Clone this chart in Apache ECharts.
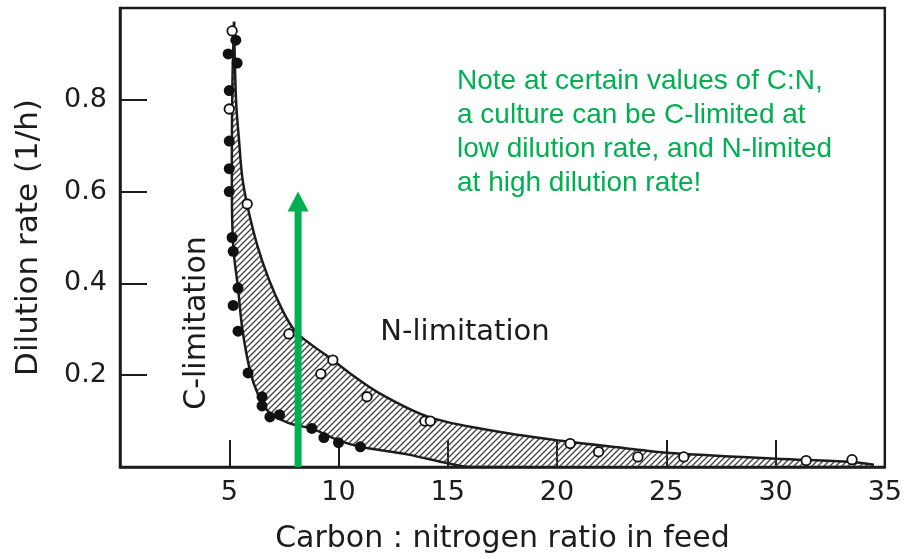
<!DOCTYPE html>
<html>
<head>
<meta charset="utf-8">
<title>Dilution rate vs C:N ratio</title>
<script src="https://cdn.jsdelivr.net/npm/echarts@6/dist/echarts.min.js"></script>
<style>
  html, body { margin: 0; padding: 0; background: #fff; }
  #chart { width: 905px; height: 559px; }
</style>
</head>
<body>
<div id="chart"></div>
<script>
// Carbon-limited steady states (filled circles)
const cLimX = [4.95, 5.3, 5.36, 5.0, 5.0, 5.0, 5.0, 5.13, 5.18, 5.4, 5.18, 5.4, 5.86, 6.5, 6.5, 6.86, 7.3, 8.78, 9.33, 10.0, 11.0];
const cLimY = [0.90, 0.93, 0.88, 0.82, 0.71, 0.65, 0.60, 0.50, 0.47, 0.39, 0.352, 0.296, 0.205, 0.153, 0.133, 0.109, 0.114, 0.084, 0.064, 0.053, 0.044];

// Nitrogen-limited steady states (open circles)
const nLimX = [5.13, 5.0, 5.82, 7.73, 9.74, 9.19, 11.3, 13.95, 14.2, 20.6, 21.9, 23.7, 25.8, 31.4, 33.5];
const nLimY = [0.95, 0.78, 0.573, 0.29, 0.233, 0.203, 0.153, 0.10, 0.10, 0.051, 0.033, 0.022, 0.022, 0.014, 0.016];

// Upper boundary of the transition zone (onset of N-limitation)
const upperX = [5.22, 5.31, 5.45, 5.6, 5.85, 6.3, 6.8, 7.4, 8.0, 8.8, 9.6, 10.5, 11.9, 14.2, 17.2, 20.2, 23.3, 25.0, 30.0, 33.5, 34.5];
const upperY = [0.97, 0.80, 0.71, 0.63, 0.565, 0.48, 0.41, 0.345, 0.297, 0.265, 0.238, 0.205, 0.16, 0.108, 0.078, 0.057, 0.04, 0.031, 0.018, 0.011, 0.005];

// Lower boundary of the transition zone (end of C-limitation)
const lowerX = [5.22, 5.15, 5.12, 5.13, 5.2, 5.4, 5.6, 5.95, 6.3, 6.8, 7.7, 8.8, 10.0, 11.0, 13.2, 15.0, 16.0, 34.5];
const lowerY = [0.97, 0.85, 0.70, 0.55, 0.47, 0.39, 0.30, 0.21, 0.16, 0.12, 0.096, 0.083, 0.058, 0.044, 0.027, 0.008, 0.0, 0.0];

// Highlighted C:N ratio
const arrowX = 8.15;
const arrowTipY = 0.6;

// Axis ticks
const xTicks = [0, 5, 10, 15, 20, 25, 30, 35];
const yTicks = [0, 0.2, 0.4, 0.6, 0.8, 1.0];

const noteLines = [
  'Note at certain values of C:N,',
  'a culture can be C-limited at',
  'low dilution rate, and N-limited',
  'at high dilution rate!'
];

const ink = '#1c1c1c';
const green = '#00b050';
const figFont = '"DejaVu Sans", sans-serif';

// Diagonal hatch tile for the transition zone
function makeHatch() {
  const s = 6;
  const c = document.createElement('canvas');
  c.width = s; c.height = s;
  const g = c.getContext('2d');
  g.strokeStyle = '#444';
  g.lineWidth = 1.35;
  g.beginPath();
  g.moveTo(-1, s + 1); g.lineTo(s + 1, -1);
  g.moveTo(-1, 1); g.lineTo(1, -1);
  g.moveTo(s - 1, s + 1); g.lineTo(s + 1, s - 1);
  g.stroke();
  return { image: c, repeat: 'repeat' };
}
const hatch = makeHatch();

const chart = echarts.init(document.getElementById('chart'), null, { renderer: 'canvas' });

function zip(xs, ys) { return xs.map((x, i) => [x, ys[i]]); }

function renderBand(params, api) {
  const up = upperX.map((x, i) => api.coord([x, upperY[i]]));
  const lo = lowerX.map((x, i) => api.coord([x, lowerY[i]]));
  const ring = up.concat(lo.slice(1).reverse());
  const sm = 0.35;
  return {
    type: 'group',
    children: [
      { type: 'polygon', shape: { points: ring, smooth: sm }, style: { fill: hatch, stroke: null } },
      { type: 'polyline', shape: { points: up, smooth: sm }, style: { stroke: ink, lineWidth: 2.5, fill: null } },
      { type: 'polyline', shape: { points: lo, smooth: sm }, style: { stroke: ink, lineWidth: 2.5, fill: null } }
    ]
  };
}

function renderArrow(params, api) {
  const base = api.coord([arrowX, 0]);
  const tip = api.coord([arrowX, arrowTipY]);
  const headLen = 20, headHalf = 10.5, shaft = 7;
  return {
    type: 'group',
    children: [
      { type: 'rect', shape: { x: base[0] - shaft / 2, y: tip[1] + headLen - 1, width: shaft, height: base[1] - tip[1] - headLen + 1 }, style: { fill: green } },
      { type: 'polygon', shape: { points: [[tip[0], tip[1]], [tip[0] - headHalf, tip[1] + headLen], [tip[0] + headHalf, tip[1] + headLen]] }, style: { fill: green } }
    ]
  };
}

const option = {
  animation: false,
  backgroundColor: '#fff',
  grid: { left: 120, right: 19, top: 8, bottom: 90, show: true, borderColor: ink, borderWidth: 2.5, backgroundColor: 'transparent' },
  xAxis: {
    type: 'value',
    min: xTicks[0], max: xTicks[xTicks.length - 1], interval: 5,
    name: 'Carbon : nitrogen ratio in feed',
    nameLocation: 'middle', nameGap: 57,
    nameTextStyle: { fontFamily: figFont, fontSize: 30, color: ink },
    axisLine: { show: true, lineStyle: { color: ink, width: 2.5 } },
    axisTick: { show: true, inside: true, length: 27, lineStyle: { color: ink, width: 2 } },
    axisLabel: { margin: 12, fontFamily: figFont, fontSize: 27, color: ink,
      formatter: v => (v === 0 ? '' : String(v)) },
    splitLine: { show: false }
  },
  yAxis: {
    type: 'value',
    min: yTicks[0], max: yTicks[yTicks.length - 1], interval: 0.2,
    name: 'Dilution rate (1/h)',
    nameLocation: 'middle', nameGap: 76,
    nameTextStyle: { fontFamily: figFont, fontSize: 31, color: ink },
    axisLine: { show: true, lineStyle: { color: ink, width: 2.5 } },
    axisTick: { show: true, inside: true, length: 27, lineStyle: { color: ink, width: 2 } },
    axisLabel: { margin: 13, fontFamily: figFont, fontSize: 27, color: ink,
      formatter: v => (v > 0.01 && v < 0.99 ? v.toFixed(1) : '') },
    splitLine: { show: false }
  },
  series: [
    { type: 'custom', name: 'transition zone', renderItem: renderBand, data: [[0, 0]], clip: true, silent: true, z: 2 },
    { type: 'scatter', name: 'C-limited', data: zip(cLimX, cLimY), symbol: 'circle', symbolSize: 11,
      itemStyle: { color: '#111', opacity: 1 }, z: 3, silent: true },
    { type: 'scatter', name: 'N-limited', data: zip(nLimX, nLimY), symbol: 'circle', symbolSize: 9.5,
      itemStyle: { color: '#fff', borderColor: '#111', borderWidth: 1.8, opacity: 1 }, z: 3, silent: true },
    { type: 'custom', name: 'C:N marker', renderItem: renderArrow, data: [[arrowX, arrowTipY]], silent: true, z: 5 }
  ],
  graphic: [
    { type: 'text', x: 197, y: 323, rotation: Math.PI / 2, z: 10,
      style: { text: 'C-limitation', font: '30px ' + figFont, fill: ink, align: 'center', verticalAlign: 'middle' } },
    { type: 'text', x: 465, y: 332, z: 10,
      style: { text: 'N-limitation', font: '29px ' + figFont, fill: ink, align: 'center', verticalAlign: 'middle' } },
    { type: 'text', x: 457, y: 64, z: 10,
      style: { text: noteLines.join('\n'), font: '28px "Liberation Sans", Arial, sans-serif', lineHeight: 34,
        fill: green, align: 'left', verticalAlign: 'top' } }
  ]
};

chart.setOption(option);
</script>
</body>
</html>
